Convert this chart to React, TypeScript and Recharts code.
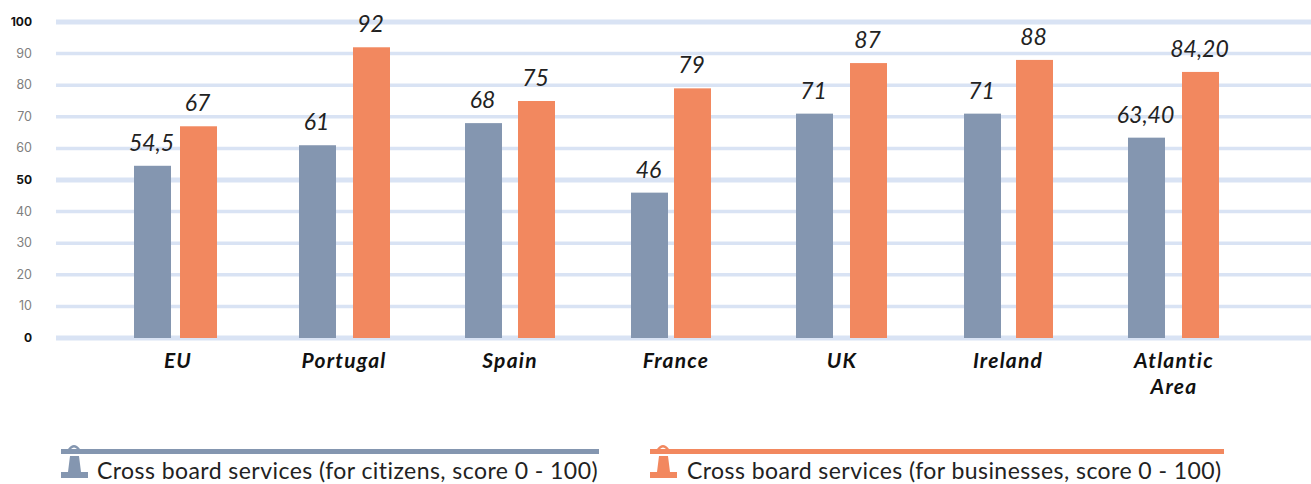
import React from "react";
import { BarChart, Bar, XAxis, YAxis, CartesianGrid, LabelList, Legend } from "recharts";

const categories = ["EU", "Portugal", "Spain", "France", "UK", "Ireland", "Atlantic Area"];
const citizens = [54.5, 61, 68, 46, 71, 71, 63.4];
const businesses = [67, 92, 75, 79, 87, 88, 84.2];
const citizensLabels = ["54,5", "61", "68", "46", "71", "71", "63,40"];
const businessesLabels = ["67", "92", "75", "79", "87", "88", "84,20"];
const yTicks = [0, 10, 20, 30, 40, 50, 60, 70, 80, 90, 100];
const boldTicks = [0, 50, 100];
const citizensName = "Cross board services (for citizens, score 0 - 100)";
const businessesName = "Cross board services (for businesses, score 0 - 100)";

// Hand-placed bars in the source: per-category horizontal shift of each series.
const citizensShift = [4, 3, 3, 3, 2, 4, 2];
const businessesShift = [-3, 4, 3, -7, 3, 3, 3];

const BLUE = "#8496B0";
const ORANGE = "#F2885F";
const GRID = "#D9E3F4";
const FONT = "Lato, 'Open Sans', sans-serif";

const data = categories.map((name, i) => ({
  name,
  citizens: citizens[i],
  businesses: businesses[i],
  citizensLabel: citizensLabels[i],
  businessesLabel: businessesLabels[i],
}));

const shiftedBar = (shift: number[], fill: string) => (p: any) => (
  <rect x={p.x + shift[p.index]} y={p.y} width={p.width} height={p.height} fill={fill} />
);

const shiftedLabel = (shift: number[]) => (p: any) => (
  <text
    x={p.x + shift[p.index] + p.width / 2 - 1}
    y={p.y - 15}
    textAnchor="middle"
    fontFamily={FONT}
    fontStyle="italic"
    fontWeight={400}
    fontSize={23}
    fill="#222"
  >
    {p.value}
  </text>
);

const gridLine = (p: any) => {
  const bold = boldTicks.includes(yTicks[yTicks.length - 1 - p.index]) || boldTicks.includes(yTicks[p.index]);
  return <line x1={p.x1} x2={p.x2} y1={p.y1} y2={p.y2} stroke={GRID} strokeWidth={bold ? 5 : 3.5} />;
};

const YTick = (p: any) => {
  const bold = boldTicks.includes(p.payload.value);
  return (
    <text
      x={32}
      y={p.y + 4}
      textAnchor="end"
      fontFamily="Inter, sans-serif"
      fontSize={bold ? 12 : 12.5}
      fontWeight={bold ? 700 : 400}
      fill={bold ? "#111" : "#808080"}
    >
      {p.payload.value}
    </text>
  );
};

const XTick = (p: any) => {
  const lines = String(p.payload.value).split(" ");
  return (
    <text
      x={p.x + 3}
      y={368}
      textAnchor="middle"
      fontFamily={FONT}
      fontStyle="italic"
      fontWeight={700}
      fontSize={21}
      letterSpacing={1.2}
      fill="#111"
    >
      {lines.map((l, i) => (
        <tspan key={l} x={p.x + 3} dy={i === 0 ? 0 : 26}>
          {l}
        </tspan>
      ))}
    </text>
  );
};

const Lighthouse = ({ x, color }: { x: number; color: string }) => (
  <g fill={color}>
    <path d={`M${x + 7} 13 Q${x + 13} 5 ${x + 19} 13 H${x + 16} Q${x + 13} 10 ${x + 10} 13 Z`} />
    <rect x={x} y={13} width={24} height={5} />
    <path d={`M${x + 9} 20 H${x + 18} L${x + 20} 36 H${x + 7} Z`} />
    <rect x={x} y={36} width={27} height={6} />
  </g>
);

const legendLayout = [
  { iconX: 61, lineFrom: 75, lineTo: 599, textX: 97 },
  { iconX: 650, lineFrom: 668, lineTo: 1224, textX: 687 },
];

const LegendContent = (props: any) => (
  <svg width={1311} height={48} style={{ display: "block" }}>
    {[citizensName, businessesName].map((name, i) => {
      const item = props.payload.find((e: any) => e.value === name);
      const l = legendLayout[i];
      return (
        <g key={name}>
          <rect x={l.lineFrom} y={13} width={l.lineTo - l.lineFrom} height={5} fill={item?.color} />
          <Lighthouse x={l.iconX} color={item?.color} />
          <text x={l.textX} y={43} fontFamily={FONT} fontSize={23} letterSpacing={0.44} fill="#222">
            {name}
          </text>
        </g>
      );
    })}
  </svg>
);

export default function App() {
  return (
    <div style={{ position: "absolute", left: 0, top: 0, width: 1311, height: 484 }}>
      <BarChart
        width={1311}
        height={484}
        data={data}
        margin={{ top: 22, right: 0, bottom: 96, left: 0 }}
        barSize={37}
        barGap={16}
      >
        <CartesianGrid vertical={false} horizontal={gridLine} />
        <XAxis
          dataKey="name"
          axisLine={false}
          tickLine={false}
          interval={0}
          height={50}
          padding={{ left: 36, right: 57 }}
          tick={XTick}
        />
        <YAxis
          width={56}
          domain={[0, 100]}
          ticks={yTicks}
          axisLine={false}
          tickLine={false}
          tick={YTick}
          interval={0}
        />
        <Legend
          verticalAlign="middle"
          align="center"
          content={LegendContent}
          wrapperStyle={{ position: "absolute", left: 0, top: 436, width: 1311, height: 48 }}
        />
        <Bar dataKey="citizens" name={citizensName} fill={BLUE} isAnimationActive={false} shape={shiftedBar(citizensShift, BLUE)}>
          <LabelList dataKey="citizensLabel" content={shiftedLabel(citizensShift)} />
        </Bar>
        <Bar dataKey="businesses" name={businessesName} fill={ORANGE} isAnimationActive={false} shape={shiftedBar(businessesShift, ORANGE)}>
          <LabelList dataKey="businessesLabel" content={shiftedLabel(businessesShift)} />
        </Bar>
      </BarChart>
    </div>
  );
}
